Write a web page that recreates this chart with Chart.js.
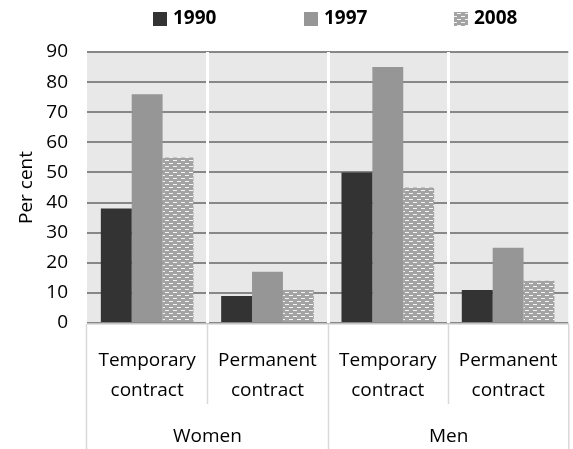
<!DOCTYPE html>
<html>
<head>
<meta charset="utf-8">
<script src="https://cdn.jsdelivr.net/npm/chart.js@4/dist/chart.umd.min.js"></script>
<style>
  html, body { margin: 0; padding: 0; background: #fff; }
  #wrap { width: 573px; height: 449px; }
</style>
</head>
<body>
<div id="wrap"><canvas id="chart"></canvas></div>
<script>
//
// DATA
//

const categories = [
  ["Temporary", "contract"],
  ["Permanent", "contract"],
  ["Temporary", "contract"],
  ["Permanent", "contract"],
];
const groups = ["Women", "Men"];
const seriesNames = ["1990", "1997", "2008"];
const values1990 = [38, 9, 50, 11];
const values1997 = [76, 17, 85, 25];
const values2008 = [55, 11, 45, 14];
const yMax = 90;
const yStep = 10;

const FONT = "'Open Sans', 'Noto Sans', sans-serif";

//
// HELPERS
//

function makeDotPattern() {
  const c = document.createElement("canvas");
  c.width = 8;
  c.height = 6;
  const g = c.getContext("2d");
  g.fillStyle = "#a3a3a3";
  g.fillRect(0, 0, 8, 6);
  g.fillStyle = "#f4f4f4";
  g.fillRect(1, 1, 4, 1);
  g.fillRect(5, 4, 3, 1);
  g.fillRect(0, 4, 1, 1);
  return g.createPattern(c, "repeat");
}

const pattern2008 = makeDotPattern();
const seriesColors = ["#333333", "#969696", pattern2008];

function boundaries(chart) {
  const xs = chart.scales.x;
  const out = [];
  for (let i = 0; i < categories.length - 1; i++) {
    out.push((xs.getPixelForValue(i) + xs.getPixelForValue(i + 1)) / 2);
  }
  return out;
}

// plot background + white separators between categories
const plotBackground = {
  id: "plotBackground",
  beforeDraw(chart) {
    const { ctx, chartArea: a } = chart;
    ctx.save();
    ctx.fillStyle = "#e8e8e8";
    ctx.fillRect(a.left, a.top, a.right - a.left, a.bottom - a.top);
    ctx.restore();
  },
  beforeDatasetsDraw(chart) {
    const { ctx, chartArea: a } = chart;
    ctx.save();
    ctx.strokeStyle = "#ffffff";
    ctx.lineWidth = 3;
    boundaries(chart).forEach((bx) => {
      ctx.beginPath();
      ctx.moveTo(Math.round(bx) + 0.5, a.top);
      ctx.lineTo(Math.round(bx) + 0.5, a.bottom);
      ctx.stroke();
    });
    ctx.restore();
  },
};

// two-level category axis boxes, group labels and legend
const axisBoxes = {
  id: "axisBoxes",
  afterDraw(chart) {
    const { ctx, chartArea: a } = chart;
    const H = chart.height;
    const L = a.left - 0.5;
    const R = a.right + 0.5;
    const b = boundaries(chart).map((v) => Math.round(v) + 0.5);
    ctx.save();
    ctx.strokeStyle = "#d9d9d9";
    ctx.lineWidth = 1.5;
    ctx.beginPath();
    ctx.moveTo(L, a.bottom + 1);
    ctx.lineTo(R, a.bottom + 1);
    [[L, H], [b[0], 404], [b[1], H], [b[2], 404], [R, H]].forEach(([x, y]) => {
      ctx.moveTo(x, a.bottom + 1);
      ctx.lineTo(x, y);
    });
    ctx.stroke();

    ctx.fillStyle = "#000";
    ctx.font = "19px " + FONT;
    ctx.textAlign = "center";
    ctx.textBaseline = "middle";
    ctx.fillText(groups[0], (L + b[1]) / 2, 437);
    ctx.fillText(groups[1], (b[1] + R) / 2, 437);

    // legend
    const legendX = [153, 304, 454];
    ctx.font = "bold 19px " + FONT;
    ctx.textAlign = "left";
    seriesNames.forEach((name, i) => {
      ctx.fillStyle = seriesColors[i];
      ctx.fillRect(legendX[i], 12, 14, 14);
      ctx.fillStyle = "#000";
      ctx.fillText(name, legendX[i] + 20, 19);
    });
    ctx.restore();
  },
};

//
// CHART
//

new Chart(document.getElementById("chart"), {
  type: "bar",
  data: {
    labels: categories,
    datasets: [values1990, values1997, values2008].map((vals, i) => ({
      label: seriesNames[i],
      data: vals,
      backgroundColor: seriesColors[i],
      borderWidth: 0,
      barPercentage: 1.0,
      categoryPercentage: 0.77,
    })),
  },
  options: {
    responsive: true,
    maintainAspectRatio: false,
    animation: false,
    events: [],
    layout: { padding: { top: 52, right: 4, left: 0, bottom: 0 } },
    plugins: {
      legend: { display: false },
      tooltip: { enabled: false },
    },
    scales: {
      x: {
        grid: { display: false },
        border: { display: false },
        ticks: {
          color: "#000",
          font: { family: FONT, size: 19, lineHeight: 1.55 },
          padding: 15,
          maxRotation: 0,
          autoSkip: false,
        },
        afterFit(scale) {
          scale.height = 126;
        },
      },
      y: {
        min: 0,
        max: yMax,
        ticks: {
          stepSize: yStep,
          color: "#000",
          font: { family: FONT, size: 19 },
          padding: 19,
        },
        grid: { color: "#878787", lineWidth: 2, drawTicks: false },
        border: { display: false },
        title: {
          display: true,
          text: "Per cent",
          color: "#000",
          font: { family: FONT, size: 19 },
          padding: { top: 15, bottom: 0 },
        },
        afterFit(scale) {
          scale.width = 87;
        },
      },
    },
  },
  plugins: [plotBackground, axisBoxes],
});
</script>
</body>
</html>
